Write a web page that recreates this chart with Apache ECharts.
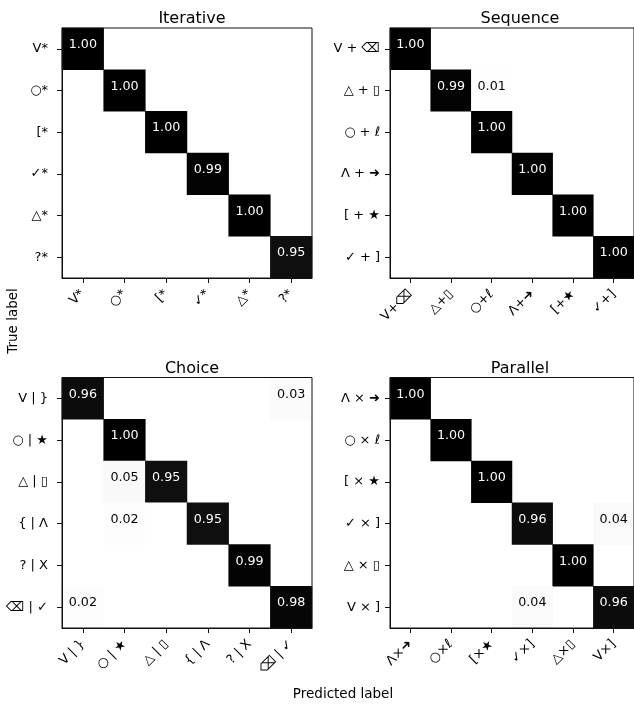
<!DOCTYPE html>
<html>
<head>
<meta charset="utf-8">
<script src="https://cdn.jsdelivr.net/npm/echarts@6/dist/echarts.min.js"></script>
<style>html,body{margin:0;padding:0;background:#fff}#c{width:634px;height:704px}</style>
</head>
<body>
<div id="c"></div>
<script>
// ---- data ----
const panelTitles = ['Iterative', 'Sequence', 'Choice', 'Parallel'];

const iterLabelsY = ['V*', '○*', '[*', '✓*', '△*', '?*'];
const iterLabelsX = ['V*', '○*', '[*', '✓*', '△*', '?*'];
const iterValues = [
  [1.00, 0, 0, 0, 0, 0],
  [0, 1.00, 0, 0, 0, 0],
  [0, 0, 1.00, 0, 0, 0],
  [0.004, 0, 0, 0.99, 0, 0],
  [0, 0, 0, 0, 1.00, 0],
  [0, 0.004, 0, 0, 0, 0.95]
];

const seqLabelsY = ['V + ⌫', '△ + ▯', '○ + ℓ', 'Λ + ➜', '[ + ★', '✓ + ]'];
const seqLabelsX = ['V+⌫', '△+▯', '○+ℓ', 'Λ+➜', '[+★', '✓+]'];
const seqValues = [
  [1.00, 0, 0, 0, 0, 0],
  [0, 0.99, 0.01, 0, 0, 0],
  [0, 0, 1.00, 0, 0, 0],
  [0, 0, 0, 1.00, 0, 0],
  [0, 0, 0, 0, 1.00, 0],
  [0, 0, 0, 0, 0, 1.00]
];

const choiceLabelsY = ['V | }', '○ | ★', '△ | ▯', '{ | Λ', '? | X', '⌫ | ✓'];
const choiceLabelsX = ['V | }', '○ | ★', '△ | ▯', '{ | Λ', '? | X', '⌫ | ✓'];
const choiceValues = [
  [0.96, 0, 0, 0.004, 0.004, 0.03],
  [0, 1.00, 0, 0, 0, 0],
  [0, 0.05, 0.95, 0, 0, 0],
  [0, 0.02, 0.003, 0.95, 0, 0],
  [0.004, 0, 0, 0, 0.99, 0],
  [0.02, 0, 0, 0, 0, 0.98]
];

const parLabelsY = ['Λ × ➜', '○ × ℓ', '[ × ★', '✓ × ]', '△ × ▯', 'V × ]'];
const parLabelsX = ['Λ×➜', '○×ℓ', '[×★', '✓×]', '△×▯', 'V×]'];
const parValues = [
  [1.00, 0, 0, 0, 0, 0],
  [0, 1.00, 0, 0, 0, 0],
  [0, 0, 1.00, 0, 0, 0],
  [0, 0, 0, 0.96, 0, 0.04],
  [0, 0, 0, 0, 1.00, 0],
  [0, 0, 0, 0.04, 0, 0.96]
];

const xLabelTitle = 'Predicted label';
const yLabelTitle = 'True label';

// ---- build ----
const FONT = 'DejaVu Sans';
const panels = [
  { ly: iterLabelsY, lx: iterLabelsX, v: iterValues },
  { ly: seqLabelsY, lx: seqLabelsX, v: seqValues },
  { ly: choiceLabelsY, lx: choiceLabelsX, v: choiceValues },
  { ly: parLabelsY, lx: parLabelsX, v: parValues }
];
const gridPos = [
  { left: 62, top: 28, width: 250, height: 250 },
  { left: 390, top: 28, width: 250, height: 250 },
  { left: 62, top: 377.5, width: 250, height: 250.5 },
  { left: 390, top: 377.5, width: 250, height: 250.5 }
];
const titlePos = [
  { x: 187, y: 14 }, { x: 515, y: 14 }, { x: 187, y: 364 }, { x: 515, y: 364 }
];

const grids = [], xAxes = [], yAxes = [], series = [], titles = [];
panels.forEach((p, i) => {
  grids.push(Object.assign({ show: true, z: 10, borderColor: '#111', borderWidth: 1, backgroundColor: 'transparent' }, gridPos[i]));
  titles.push({
    text: panelTitles[i], left: titlePos[i].x, top: titlePos[i].y, textAlign: 'center', textVerticalAlign: 'middle',
    textStyle: { fontFamily: FONT, fontSize: 16, fontWeight: 'normal', color: '#000' }
  });
  xAxes.push({
    type: 'category', gridIndex: i, data: p.lx, position: 'bottom', z: 10,
    axisLine: { show: true, lineStyle: { color: '#111', width: 1 } },
    axisTick: { show: true, alignWithLabel: true, length: 5, lineStyle: { color: '#111' } },
    axisLabel: { rotate: 45, margin: 14, fontFamily: FONT, fontSize: 13, color: '#000', interval: 0 },
    splitLine: { show: false }
  });
  yAxes.push({
    type: 'category', gridIndex: i, data: p.ly, inverse: true, z: 10,
    axisLine: { show: true, lineStyle: { color: '#111', width: 1 } },
    axisTick: { show: true, alignWithLabel: true, length: 5, lineStyle: { color: '#111' } },
    axisLabel: { margin: (i % 2 === 0) ? 14 : 10, fontFamily: FONT, fontSize: 13, color: '#000', interval: 0 },
    splitLine: { show: false }
  });
  const data = [];
  p.v.forEach((row, r) => row.forEach((val, c) => {
    if (val > 0) data.push({ value: [c, r, val], label: { color: val > 0.5 ? '#fff' : '#000' } });
  }));
  series.push({
    type: 'heatmap', xAxisIndex: i, yAxisIndex: i, data: data, z: 2,
    label: {
      show: true, fontFamily: FONT, fontSize: 12.7, offset: [0, -4],
      formatter: (q) => q.value[2] >= 0.005 ? q.value[2].toFixed(2) : ''
    },
    itemStyle: { borderWidth: 0 },
    emphasis: { disabled: true }
  });
});

const chart = echarts.init(document.getElementById('c'), null, { renderer: 'canvas' });
chart.setOption({
  animation: false,
  backgroundColor: '#fff',
  title: titles,
  grid: grids,
  xAxis: xAxes,
  yAxis: yAxes,
  visualMap: {
    show: false, type: 'continuous', min: 0, max: 1, dimension: 2,
    inRange: { color: ['#ffffff', '#f0f0f0', '#d9d9d9', '#bdbdbd', '#969696', '#737373', '#525252', '#252525', '#000000'] }
  },
  series: series,
  graphic: [
    { type: 'text', x: 13, y: 321, rotation: Math.PI / 2,
      style: { text: yLabelTitle, font: '13.5px "DejaVu Sans"', fill: '#000', textAlign: 'center', textVerticalAlign: 'middle' } },
    { type: 'text', x: 343, y: 694,
      style: { text: xLabelTitle, font: '13.5px "DejaVu Sans"', fill: '#000', textAlign: 'center', textVerticalAlign: 'middle' } }
  ]
});
</script>
</body>
</html>
